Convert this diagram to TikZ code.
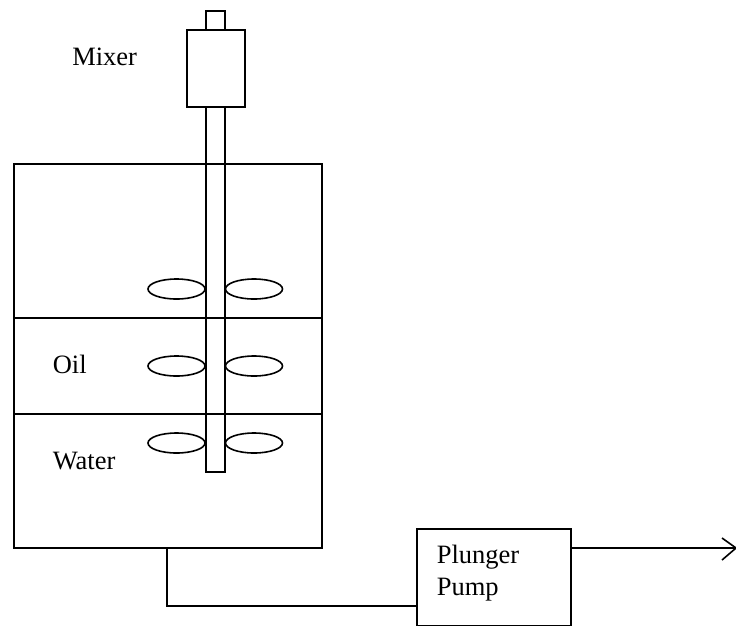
\documentclass[tikz,border=0pt]{standalone}
\usepackage{fontspec}
\setmainfont{Liberation Serif}
\usetikzlibrary{shapes.geometric}
\tikzset{
  box/.style={draw,rectangle,inner sep=0pt,anchor=north west},
  blade/.style={draw,ellipse,inner sep=0pt,minimum width=57pt,minimum height=20pt},
  lbl/.style={font=\fontsize{26.5}{32}\selectfont,inner sep=0pt,anchor=base west,align=left},
}
\begin{document}
\begin{tikzpicture}[x=1pt,y=-1pt,line width=1.6pt]
\useasboundingbox (0,0) rectangle (736,625);
\clip (0,0) rectangle (736,625);
\begin{scope}[xshift=-1pt,yshift=1pt]
\node[box,minimum width=308pt,minimum height=384pt] (tank) at (14,164) {};
\draw (14,319) coordinate (oilL) -- (322,319) coordinate (oilR);
\draw (14,415) coordinate (waterL) -- (322,415) coordinate (waterR);
\node[box,minimum width=19pt,minimum height=19pt] (stub) at (206,11) {};
\node[box,minimum width=58pt,minimum height=77pt] (mixer) at (187,30) {};
\node[box,minimum width=19pt,minimum height=365pt] (shaft) at (206,107) {};
\node[blade] (b1l) at (177.5,290) {};
\node[blade] (b1r) at (255,290) {};
\node[blade] (b2l) at (177.5,367) {};
\node[blade] (b2r) at (255,367) {};
\node[blade] (b3l) at (177.5,444) {};
\node[blade] (b3r) at (255,444) {};
\node[box,minimum width=154pt,minimum height=97pt] (pump) at (417,529) {};
\coordinate (tankout) at (168,548);
\coordinate (pumpin) at (417,607);
\coordinate (pumpout) at (571,549);
\coordinate (end) at (737,549);
\draw (tankout) |- (pumpin);
\draw (pumpout) -- (end);
\draw (723,539) -- (end) -- (723,561);
\end{scope}
\node[lbl] (mixerlabel) at (71.5,65) {Mixer};
\node[lbl] (oillabel) at (52,373) {Oil};
\node[lbl] (waterlabel) at (52,469) {Water};
\node[lbl] (pumplabel1) at (436,563) {Plunger};
\node[lbl] (pumplabel2) at (436,595) {Pump};
\end{tikzpicture}
\end{document}
